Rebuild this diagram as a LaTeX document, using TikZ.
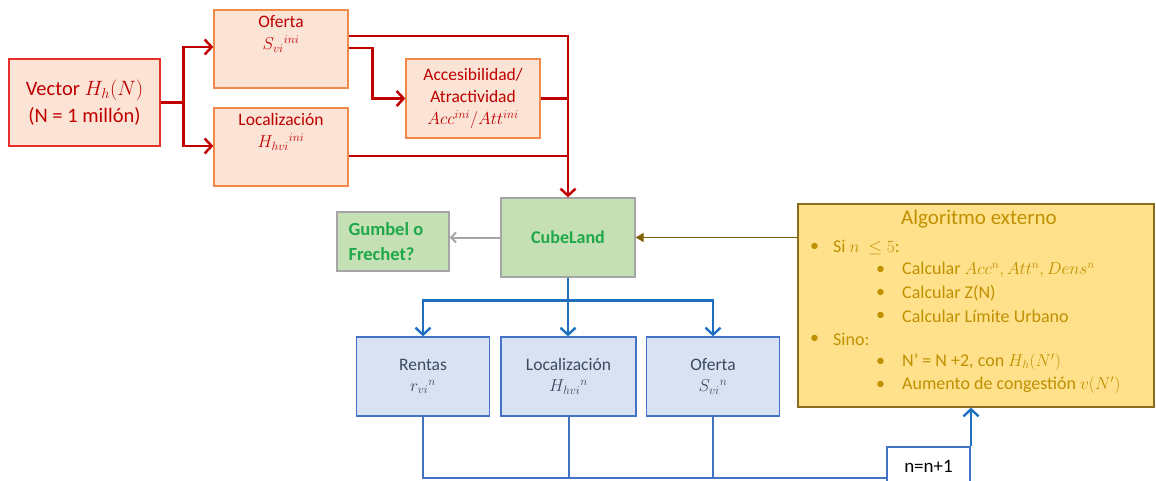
\documentclass[tikz,border=0pt]{standalone}
\usepackage{fontspec}
\setmainfont{Carlito}
\usetikzlibrary{arrows.meta}
\definecolor{redln}{HTML}{C00000}
\definecolor{orfill}{HTML}{FBE3D5}
\definecolor{orbord}{HTML}{F08A4B}
\definecolor{vecbord}{HTML}{E8302A}
\definecolor{grfill}{HTML}{C5E0B4}
\definecolor{grbord}{HTML}{A5A5A5}
\definecolor{grtext}{HTML}{1FA84A}
\definecolor{ylfill}{HTML}{FFE18C}
\definecolor{ylbord}{HTML}{8A6D1E}
\definecolor{yltext}{HTML}{BF9000}
\definecolor{brln}{HTML}{7F6000}
\definecolor{blfill}{HTML}{D9E2F3}
\definecolor{blbord}{HTML}{4472C4}
\definecolor{bltext}{HTML}{3B4A60}
\definecolor{blln}{HTML}{1F6FC0}
\tikzset{
  x=1pt, y=-1pt,
  obox/.style={draw=orbord, fill=orfill, line width=1.3pt, minimum width=134pt, minimum height=78pt, inner sep=0pt},
  gbox/.style={draw=grbord, fill=grfill, line width=1.3pt, inner sep=0pt},
  bbox/.style={draw=blbord, fill=blfill, line width=1.3pt, minimum width=133pt, minimum height=79pt, inner sep=0pt, text=bltext, font=\fontsize{17.5}{21}\selectfont, align=center},
  redtxt/.style={text=redln, font=\fontsize{17.5}{22}\selectfont, align=center, inner sep=0pt},
  redarr/.style={draw=redln, line width=2.5pt, -{Straight Barb[length=7pt,width=15pt,line width=2.5pt]}},
  redln/.style={draw=redln, line width=2.5pt},
  bluearr/.style={draw=blln, line width=2.4pt, -{Straight Barb[length=7pt,width=15pt,line width=2.4pt]}},
  blueln/.style={draw=blbord, line width=2pt},
  algtxt/.style={text=yltext, font=\fontsize{18}{21}\selectfont, anchor=west, inner sep=0pt},
}
\begin{document}
\begin{tikzpicture}
\useasboundingbox (0,0) rectangle (1156,480);
% top boxes
\node[obox, draw=vecbord, minimum width=151pt, minimum height=87pt] (vec) at (84.5,102.5) {};
\node[redtxt, font=\fontsize{20.5}{27}\selectfont] (vect) at (vec.center) {Vector $H_h(N)$\\(N = 1 millón)};
\node[obox] (of) at (281,49) {};
\node[redtxt, anchor=north] (oft) at ([yshift=-6pt]of.north) {Oferta\\$S_{vi}{}^{ini}$};
\node[obox] (loc) at (281,147) {};
\node[redtxt, anchor=north] (loct) at ([yshift=-6pt]loc.north) {Localización\\$H_{hvi}{}^{ini}$};
\node[obox, minimum height=79pt] (acc) at (473,98.5) {};
\node[redtxt, font=\fontsize{17.5}{22}\selectfont] (acct) at (acc.center) {Accesibilidad/\\Atractividad\\$Acc^{ini}/Att^{ini}$};
% green
\node[gbox, minimum width=134pt, minimum height=79pt] (cube) at (568,237.5) {};
\node[text=grtext, font=\fontsize{18}{22}\selectfont\bfseries] (cubet) at (cube.center) {CubeLand};
\node[gbox, minimum width=112pt, minimum height=59pt] (gum) at (393,241.5) {};
\node[text=grtext, font=\fontsize{18.5}{25}\selectfont\bfseries, align=left, anchor=west, inner sep=0pt] (gumt) at ([xshift=12pt]gum.west) {Gumbel o\\Frechet?};
% algorithm
\node[draw=ylbord, fill=ylfill, line width=1.3pt, minimum width=356pt, minimum height=203pt, inner sep=0pt] (alg) at (976,305.5) {};
\node[text=yltext, font=\fontsize{21}{24}\selectfont, inner sep=0pt] (algt) at (979,219) {Algoritmo externo};
\node[algtxt] (a1b) at (810,247) {\textbullet};
\node[algtxt] (a1) at (833,247) {Si $n\ \leq 5$:};
\node[algtxt] (a2b) at (876,270) {\textbullet};
\node[algtxt] (a2) at (902,270) {Calcular $Acc^n, Att^n, Dens^n$};
\node[algtxt] (a3b) at (876,293) {\textbullet};
\node[algtxt] (a3) at (902,293) {Calcular Z(N)};
\node[algtxt] (a4b) at (876,316) {\textbullet};
\node[algtxt] (a4) at (902,316) {Calcular Límite Urbano};
\node[algtxt] (a5b) at (810,339) {\textbullet};
\node[algtxt] (a5) at (833,339) {Sino:};
\node[algtxt] (a6b) at (876,362) {\textbullet};
\node[algtxt] (a6) at (902,362) {N’ = N +2, con $H_h(N')$};
\node[algtxt] (a7b) at (876,385) {\textbullet};
\node[algtxt] (a7) at (902,385) {Aumento de congestión $v(N')$};
% blue boxes
\node[bbox] (rent) at (423,376.5) {Rentas\\$r_{vi}{}^{n}$};
\node[bbox, minimum width=135pt] (locb) at (568.5,376.5) {Localización\\$H_{hvi}{}^{n}$};
\node[bbox] (ofb) at (713,376.5) {Oferta\\$S_{vi}{}^{n}$};
\node[draw=blbord, fill=white, line width=2pt, minimum width=83pt, minimum height=40pt, inner sep=0pt] (nb) at (928.5,467) {};
\node[font=\fontsize{19}{22}\selectfont, inner sep=0pt] (nbt) at (928.5,466) {n=n+1};
% red connectors
\draw[redarr] (vec.east) -- ++(23,0) |- ([yshift=2pt]of.west);
\draw[redarr] (vec.east) -- ++(23,0) |- ([yshift=1pt]loc.west);
\draw[redln] ([yshift=13pt]of.east) -| ([yshift=6pt]cube.north);
\draw[redarr] ([yshift=13pt]of.east -| cube.north) -- (cube.north);
\draw[redarr] ([yshift=1pt]of.east) -- ++(24,0) |- (acc.west);
\draw[redln] (acc.east) -- (acc.east -| cube.north);
\draw[redln] ([yshift=-9pt]loc.east) -- ([yshift=-9pt]loc.east -| cube.north);
% gray and brown
\draw[draw=grbord, line width=2pt, -{Straight Barb[length=5pt,width=10pt,line width=2pt]}] (cube.west) -- (gum.east |- cube.west);
\draw[draw=brln, line width=1.5pt, -{Triangle[length=8pt,width=9pt]}] (alg.west |- cube.east) -- (cube.east);
% blue connectors
\draw[bluearr] (cube.south) -- ++(0,23) -| (rent.north);
\draw[bluearr] (cube.south) -- (locb.north -| cube.south);
\draw[bluearr] (cube.south) -- ++(0,23) -| (ofb.north);
\draw[blueln] (rent.south) |- ([yshift=-11pt]nb.west);
\draw[blueln] (locb.south) -- ++(0,62);
\draw[blueln] (ofb.south) -- ++(0,62);
\draw[bluearr] (nb.north east) -- (alg.south -| nb.north east);
\end{tikzpicture}
\end{document}
